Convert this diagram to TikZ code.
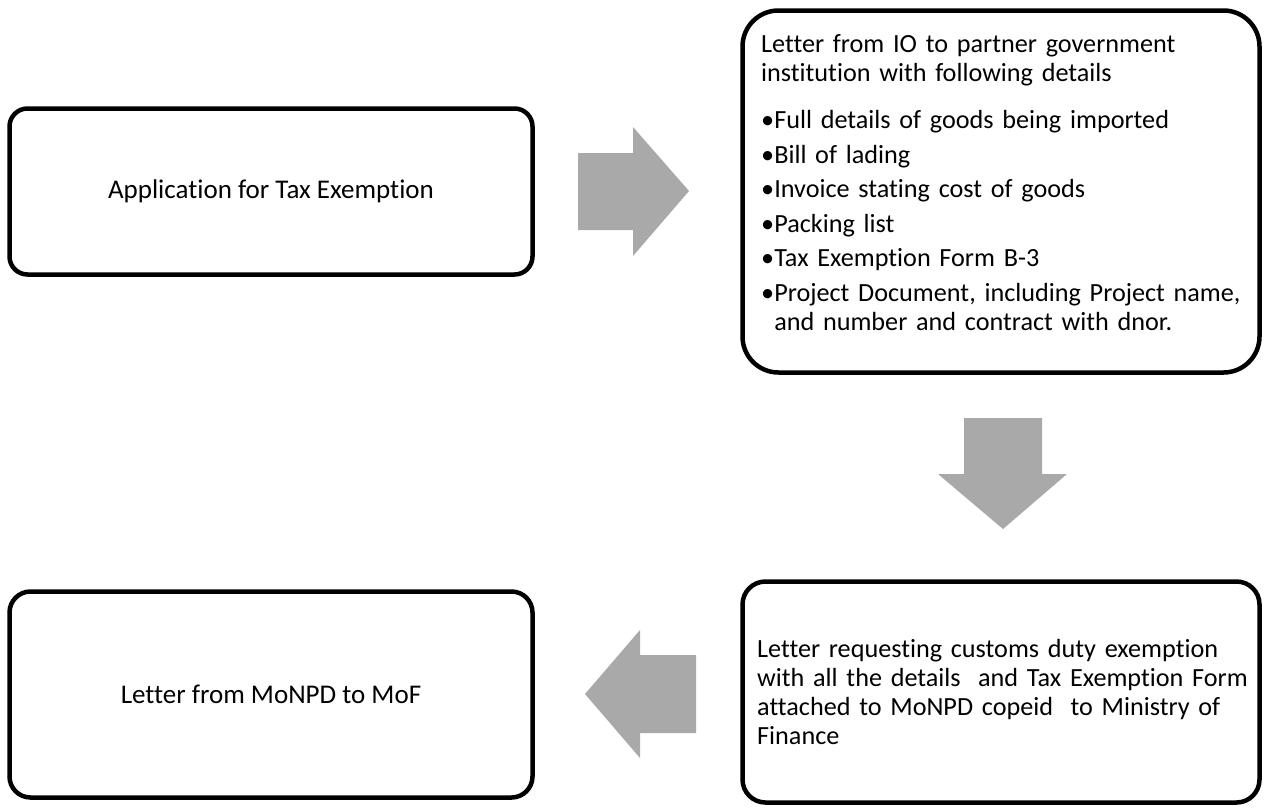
\documentclass[tikz,border=0pt]{standalone}
\usepackage{fontspec}
\setmainfont{Carlito}[Ligatures={NoCommon}]
\definecolor{arrowgray}{HTML}{A9A9A9}
\newcommand{\bitem}[1]{\par\noindent\setbox0\hbox{•}\hangindent=\wd0\relax\hangafter=1\relax\box0 #1}
\tikzset{
  box/.style={draw=black, line width=4.5pt, fill=white, inner sep=0pt},
  txt/.style={font=\fontsize{27}{29}\selectfont},
  txtb/.style={font=\fontsize{26.2}{29.3}\selectfont},
  blockarrow/.style={fill=arrowgray, draw=none}
}
\begin{document}
\begin{tikzpicture}[x=1pt,y=-1pt]
\useasboundingbox (0,0) rectangle (1266,807);
% boxes
\node[box, txt, minimum width=523pt, minimum height=166pt, rounded corners=18pt] (b1) at (271,191.5) {Application for Tax Exemption};
\node[box, minimum width=517pt, minimum height=362pt, rounded corners=36pt] (b2) at (1001,191.5) {};
\node[box, txt, minimum width=523pt, minimum height=206pt, rounded corners=21pt] (b3) at (271,694.5) {Letter from MoNPD to MoF};
\node[box, minimum width=517pt, minimum height=221pt, rounded corners=23pt] (b4) at (1001,692) {};
% text of box 4
\node[txtb, anchor=base west, inner sep=0pt, text width=500pt, align=left] (t4) at (757,657)
  {Letter requesting customs duty exemption\\with all the details\ \ and Tax Exemption Form\\attached to MoNPD copeid\ \ to Ministry of\\Finance};
% text of box 2
\node[txtb, anchor=base west, inner sep=0pt, text width=495pt, align=left] (t2) at (761,52)
  {Letter from IO to partner government\\institution with following details\par
   \vspace{13pt}\setlength{\parskip}{5.2pt}%
   \bitem{Full details of goods being imported}
   \bitem{Bill of lading}
   \bitem{Invoice stating cost of goods}
   \bitem{Packing list}
   \bitem{Tax Exemption Form B-3}
   \bitem{Project Document, including Project name,\newline and number and contract with dnor.}\par};
% block arrows
\fill[blockarrow] (578,153) -- (633,153) -- (633,127) -- (689,191) -- (633,256) -- (633,230) -- (578,230) -- cycle;
\fill[blockarrow] (964,418) -- (1042,418) -- (1042,474) -- (1067,474) -- (1003,529) -- (938,474) -- (964,474) -- cycle;
\fill[blockarrow] (696,655) -- (640,655) -- (640,630) -- (585,694) -- (640,758) -- (640,733) -- (696,733) -- cycle;
\end{tikzpicture}
\end{document}
